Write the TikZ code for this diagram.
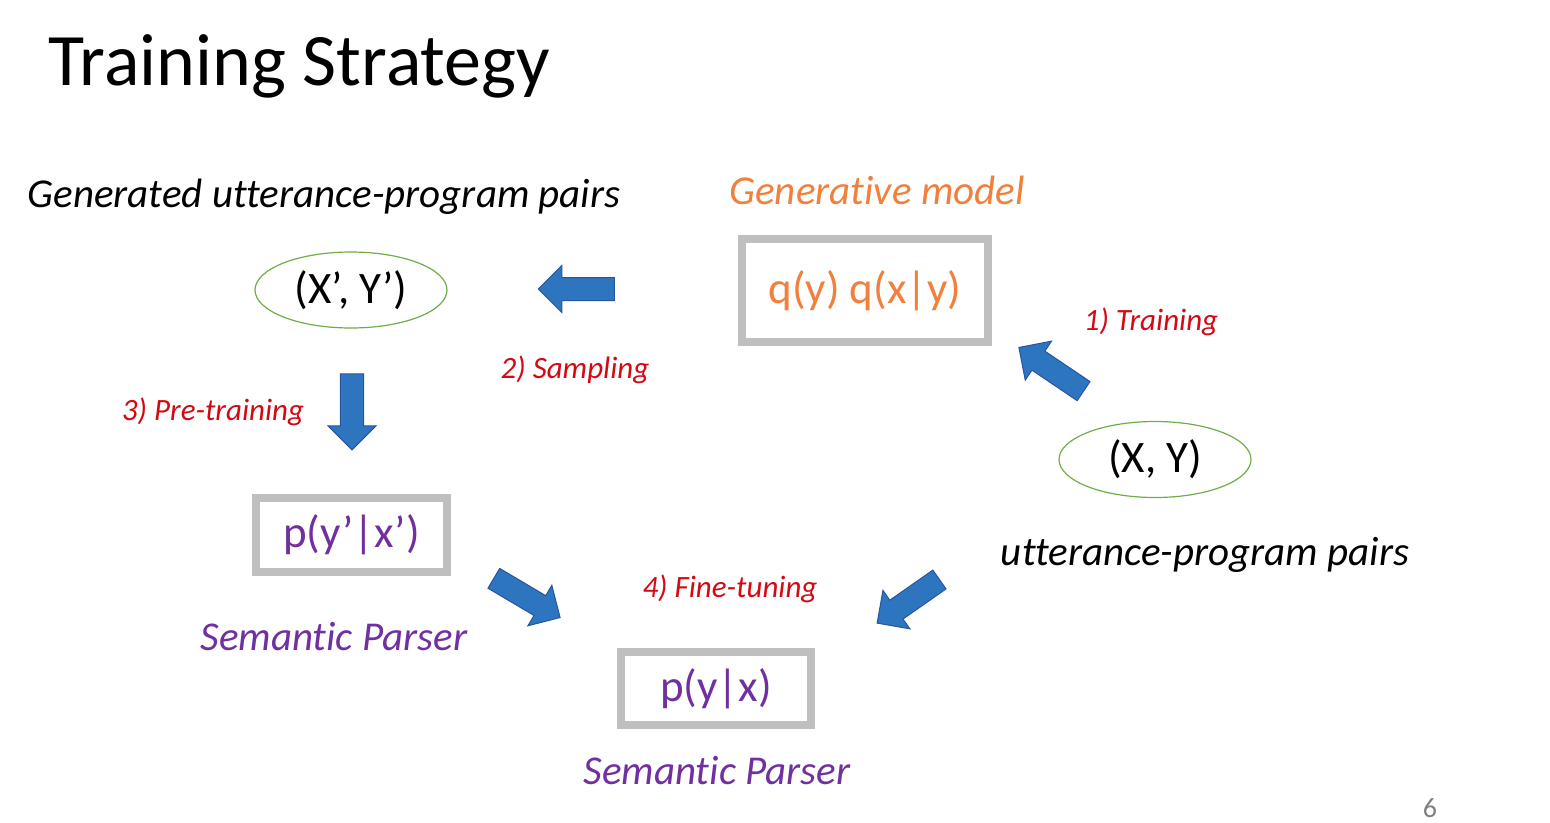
\documentclass[tikz,border=0pt]{standalone}
\usepackage{fontspec}
\setmainfont[Ligatures=NoCommon]{Carlito}
\usetikzlibrary{shapes.geometric,shapes.arrows}
\definecolor{arrowblue}{RGB}{46,117,192}
\definecolor{arrowedge}{RGB}{40,84,160}
\definecolor{boxgray}{RGB}{191,191,191}
\definecolor{modelorange}{RGB}{240,128,60}
\definecolor{parserpurple}{RGB}{112,48,160}
\definecolor{stepred}{RGB}{210,10,20}
\definecolor{leafgreen}{RGB}{112,173,71}
\begin{document}
\begin{tikzpicture}[x=1pt,y=-1pt,
  pairs/.style={ellipse,draw=leafgreen,line width=1.2pt,minimum width=192pt,minimum height=76pt,font=\fontsize{45}{45}\selectfont},
  dist/.style={draw=boxgray,line width=8pt,inner sep=0pt,font=\fontsize{45}{45}\selectfont},
  bigarrow/.style={single arrow,draw=arrowedge,fill=arrowblue,line width=1pt,inner xsep=0pt,inner ysep=11pt,minimum height=77pt,minimum width=46pt,single arrow head extend=12pt},
  steplabel/.style={text=stepred,font=\fontsize{31}{31}\selectfont\itshape},
  caption/.style={font=\fontsize{41}{41}\selectfont\itshape}]
\useasboundingbox (0,0) rectangle (1550,822);
\node[anchor=base west,font=\fontsize{74}{74}\selectfont] (title) at (45,85) {Training Strategy};

% generated pairs and the generative model
\node[caption,anchor=base] (genlabel) at (324,207) {Generated utterance-program pairs};
\node[caption,anchor=base,text=modelorange] (modellabel) at (877,204) {Generative model};
\node[pairs] (gen) at (351,290) {(X’, Y’)};
\node[dist,text=modelorange,minimum width=246pt,minimum height=103pt] (q) at (865,290.5) {q(y) q(x|y)};

% real pairs
\node[pairs] (real) at (1155,459.5) {(X, Y)};
\node[caption,anchor=base] (reallabel) at (1205,565) {utterance-program pairs};

% semantic parsers
\node[dist,text=parserpurple,minimum width=191pt,minimum height=74pt] (pre) at (351.5,535) {p(y’|x’)};
\node[caption,anchor=base,text=parserpurple] (prelabel) at (334,650) {Semantic Parser};
\node[dist,text=parserpurple,minimum width=190pt,minimum height=73pt] (fine) at (716,688.5) {p(y|x)};
\node[caption,anchor=base,text=parserpurple] (finelabel) at (717,784) {Semantic Parser};

% steps
\node[bigarrow,rotate=146,minimum height=78pt] (train) at (1056,372.5) {};
\node[steplabel,anchor=base] (trainlabel) at (1151,330) {1) Training};
\node[bigarrow,rotate=180,minimum height=76pt] (sample) at (582,289) {};
\node[steplabel,anchor=base] (samplelabel) at (575,378) {2) Sampling};
\node[bigarrow,rotate=-90,minimum height=76pt,minimum width=48pt] (pretrain) at (352,406) {};
\node[steplabel,anchor=base] (pretrainlabel) at (213,420) {3) Pre-training};
\node[bigarrow,rotate=-30.6] (tunepre) at (522,595) {};
\node[bigarrow,rotate=-145,minimum height=76pt] (tunereal) at (913,598) {};
\node[steplabel,anchor=base] (tunelabel) at (730,597) {4) Fine-tuning};

\node[anchor=base,text=gray,font=\fontsize{28}{28}\selectfont] (page) at (1430,817) {6};
\end{tikzpicture}
\end{document}
